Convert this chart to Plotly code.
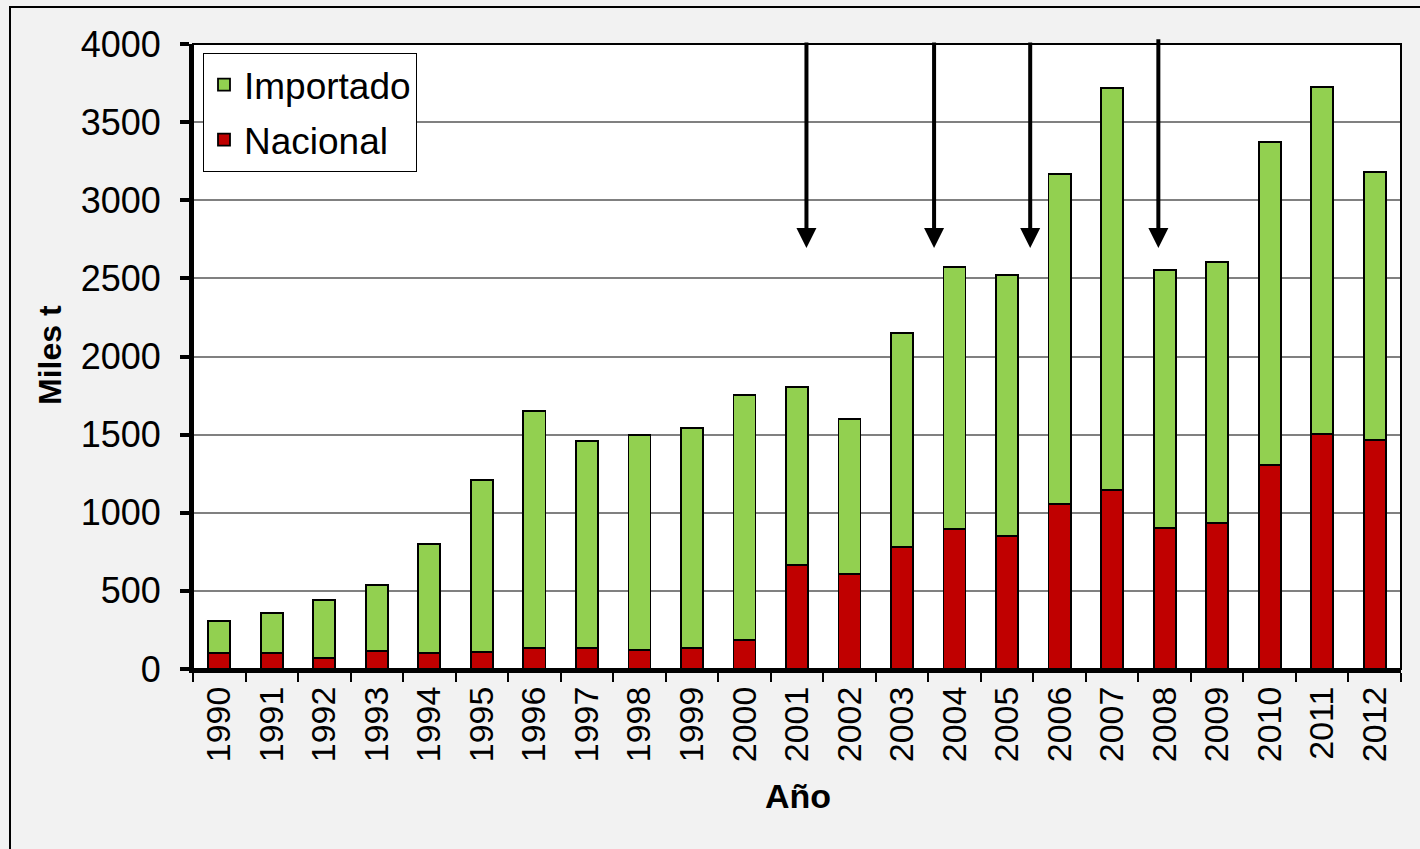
import plotly.graph_objects as go

years = [str(y) for y in range(1990, 2013)]
total = [307, 358, 441, 537, 800, 1210, 1651, 1459, 1498, 1542, 1754, 1805,
         1600, 2150, 2573, 2522, 3168, 3718, 2554, 2605, 3373, 3725, 3181]
nacional = [102, 102, 70, 115, 102, 109, 134, 134, 122, 134, 186, 666,
            608, 781, 896, 851, 1056, 1146, 902, 934, 1306, 1504, 1466]
importado = [t - n for t, n in zip(total, nacional)]

# arrow positions (category index units) and tip/tail values
arrow_x = [11.18, 13.61, 15.44, 17.88]
arrow_tip = 2694
arrow_tail = [4019, 4019, 4019, 4040]

W, H = 1420, 849
L, R, T, B = 193, 1401, 44, 669


def px(x):
    return (x - L) / (R - L)


def py(y):
    return (B - y) / (B - T)


FONT = "Liberation Sans, Arial, sans-serif"

fig = go.Figure()
fig.add_trace(go.Bar(x=years, y=nacional, name="Nacional", legendgroup="n", legendrank=2,
                     marker=dict(color="#C00000", line=dict(color="black", width=1.8))))
fig.add_trace(go.Bar(x=years, y=importado, name="Importado", legendgroup="i", legendrank=1,
                     marker=dict(color="#92D050", line=dict(color="black", width=1.8))))

annotations = []
for ax_, tail in zip(arrow_x, arrow_tail):
    annotations.append(dict(x=ax_, y=arrow_tip, ax=ax_, ay=tail, xref="x", yref="y",
                            axref="x", ayref="y", showarrow=True, arrowhead=2,
                            arrowsize=1, arrowwidth=4, arrowcolor="black", text=""))
annotations.append(dict(text="<b>Miles t</b>", x=px(50), y=py(355), xref="paper", yref="paper",
                        xanchor="center", yanchor="middle",
                        showarrow=False, textangle=-90, font=dict(size=32, color="black", family=FONT)))
annotations.append(dict(text="<b>Año</b>", x=px(798), y=py(796), xref="paper", yref="paper",
                        xanchor="center", yanchor="middle",
                        showarrow=False, font=dict(size=34, color="black", family=FONT)))

shapes = [
    dict(type="rect", xref="paper", yref="paper", x0=px(10), x1=px(1430), y0=py(860), y1=py(7),
         line=dict(color="black", width=2), fillcolor="rgba(0,0,0,0)", layer="below"),
    dict(type="rect", xref="paper", yref="paper", x0=0, x1=1, y0=0, y1=1,
         line=dict(color="black", width=2), fillcolor="rgba(0,0,0,0)", layer="above"),
]

fig.update_layout(
    width=W, height=H,
    margin=dict(l=L, r=W - R, t=T, b=H - B, pad=0),
    paper_bgcolor="#F2F2F2", plot_bgcolor="white",
    barmode="stack", bargap=0.58,
    font=dict(family=FONT, color="black"),
    showlegend=True,
    legend=dict(x=px(203), y=py(53), xanchor="left", yanchor="top",
                bgcolor="white", bordercolor="black", borderwidth=1,
                font=dict(size=37, family=FONT), traceorder="grouped",
                tracegroupgap=4),
    annotations=annotations, shapes=shapes,
)
fig.update_xaxes(type="category", showline=True, linecolor="black", linewidth=4,
                 ticks="outside", tickson="boundaries", ticklen=9, tickwidth=2, tickcolor="black",
                 tickangle=-90, tickfont=dict(size=34, family=FONT), showgrid=False)
fig.update_yaxes(range=[0, 4000], dtick=500, showline=True, linecolor="black", linewidth=4,
                 ticks="outside", ticklen=9, tickwidth=4, tickcolor="black",
                 tickfont=dict(size=36, family=FONT), showgrid=True, gridcolor="#808080", gridwidth=1.5,
                 zeroline=False, ticklabelstandoff=12)

fig.write_html("out.html", config={"displayModeBar": False},
               post_script="document.body.style.margin='0';document.body.style.background='#F2F2F2';")
